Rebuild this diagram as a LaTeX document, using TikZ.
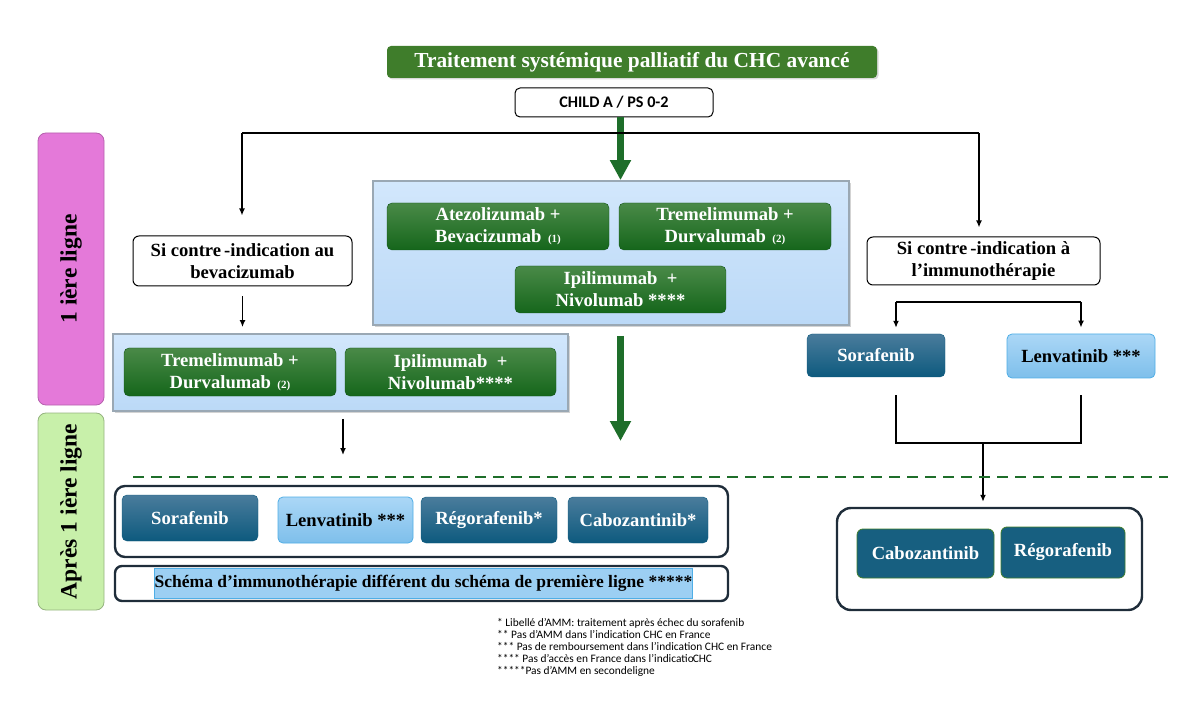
\documentclass[tikz,border=0pt]{standalone}
\usepackage{fontspec}
\setmainfont{Liberation Serif}
\newfontfamily\calfont{Carlito}
\usetikzlibrary{arrows.meta,shadows}

\definecolor{titlegreen}{HTML}{3F7D2B}
\definecolor{btngreentop}{HTML}{4A8A48}
\definecolor{btngreenbot}{HTML}{15661B}
\definecolor{tealtop}{HTML}{4A7C9C}
\definecolor{tealbot}{HTML}{0D5A7E}
\definecolor{tealflat}{HTML}{175F80}
\definecolor{lighttop}{HTML}{ABD7F6}
\definecolor{lightbot}{HTML}{7EBFEB}
\definecolor{lightedge}{HTML}{4FAEE6}
\definecolor{paneltop}{HTML}{D2E7FC}
\definecolor{panelbot}{HTML}{BBD9F7}
\definecolor{paneledge}{HTML}{9AA8B4}
\definecolor{pinklabel}{HTML}{E479D9}
\definecolor{greenlabel}{HTML}{C8F0AA}
\definecolor{arrowgreen}{HTML}{1E6E2A}
\definecolor{framedark}{HTML}{1F2D3A}
\definecolor{highlight}{HTML}{9CCFF3}

\tikzset{
  btnfont/.style={font=\fontsize{18.6}{22}\selectfont\bfseries},
  greenbtn/.style={rounded corners=5pt, top color=btngreentop, bottom color=btngreenbot,
    draw=btngreenbot!80!black, line width=0.4pt, text=white, btnfont, align=center, inner sep=0pt},
  tealbtn/.style={rounded corners=5pt, top color=tealtop, bottom color=tealbot,
    draw=tealbot, line width=0.4pt, text=white, btnfont, align=center, inner sep=0pt},
  flatteal/.style={rounded corners=6pt, fill=tealflat, draw=titlegreen, line width=0.8pt,
    text=white, btnfont, align=center, inner sep=0pt},
  lightbtn/.style={rounded corners=5pt, top color=lighttop, bottom color=lightbot,
    draw=lightedge, line width=0.8pt, text=black, btnfont, align=center, inner sep=0pt},
  whitebox/.style={rounded corners=6pt, fill=white, draw=black, line width=1pt,
    text=black, btnfont, align=center, inner sep=0pt},
  panel/.style={top color=paneltop, bottom color=panelbot, draw=paneledge, line width=1.8pt,
    drop shadow={shadow xshift=2pt, shadow yshift=-2pt, opacity=0.35}, inner sep=0pt},
  frame/.style={rounded corners=10pt, draw=framedark, line width=2.4pt, fill=white, inner sep=0pt},
  sidelabel/.style={rounded corners=8pt, rotate=90, line width=0.8pt, inner sep=0pt,
    font=\fontsize{23.5}{26}\selectfont\bfseries, text=black},
  blk/.style={draw=black, line width=1.4pt, -{Latex[length=7pt,width=6pt]}},
  plainline/.style={draw=black, line width=1.8pt},
  garrow/.style={draw=arrowgreen, line width=7pt, -{Triangle[length=20pt,width=20pt]}},
  dashgreen/.style={draw=arrowgreen, line width=2pt, dash pattern=on 11pt off 7pt},
}

\newcommand{\refmark}[1]{\fontsize{11}{11}\selectfont\,#1}

\begin{document}
\begin{tikzpicture}[x=1pt,y=-1pt]
\useasboundingbox (0,0) rectangle (1200,719);

% line labels on the left
\node[sidelabel, fill=pinklabel, draw=pinklabel!80!black,
      minimum width=272pt, minimum height=66pt] (firstline) at (71,269) {1 ière ligne};
\node[sidelabel, fill=greenlabel, draw=greenlabel!75!black,
      minimum width=197pt, minimum height=66pt] (afterline) at (71,511.5) {Après 1 ière ligne};

% title and entry condition
\node[rounded corners=4pt, fill=titlegreen, text=white, inner sep=0pt,
      minimum width=490pt, minimum height=32pt,
      drop shadow={shadow xshift=1.5pt, shadow yshift=-1.5pt, opacity=0.3},
      font=\fontsize{21.4}{24}\selectfont\bfseries] (title) at (632,62)
      {Traitement systémique palliatif du CHC avancé};
\node[rounded corners=5pt, draw=black, line width=1pt, fill=white, inner sep=0pt,
      minimum width=198pt, minimum height=29pt,
      font=\calfont\fontsize{16.2}{18}\selectfont\bfseries] (child) at (614,102.5)
      {CHILD A / PS 0-2};

% first-line panel in the middle
\node[panel, minimum width=476pt, minimum height=144pt] (panel1) at (611,253) {};
\node[greenbtn, minimum width=222pt, minimum height=47pt] (atezo) at (498,226.5)
      {Atezolizumab +\\Bevacizumab \refmark{(1)}};
\node[greenbtn, minimum width=212pt, minimum height=47pt] (treme1) at (725,226.5)
      {Tremelimumab +\\Durvalumab \refmark{(2)}};
\node[greenbtn, minimum width=211pt, minimum height=47pt] (ipi1) at (620.5,289.5)
      {Ipilimumab \ +\\Nivolumab ****};

% left branch: contra-indication to bevacizumab
\node[whitebox, minimum width=219pt, minimum height=50pt] (sib) at (242.5,261)
      {Si contre\,-indication au\\bevacizumab};
\node[panel, minimum width=455pt, minimum height=77pt] (panel2) at (340.5,372.5) {};
\node[greenbtn, minimum width=212pt, minimum height=48pt] (treme2) at (230,372)
      {Tremelimumab +\\Durvalumab \refmark{(2)}};
\node[greenbtn, minimum width=211pt, minimum height=48pt] (ipi2) at (450.5,372)
      {Ipilimumab \ +\\Nivolumab****};

% right branch: contra-indication to immunotherapy
\node[whitebox, minimum width=233pt, minimum height=48pt] (sci) at (983.5,261)
      {Si contre\,-indication à\\l’immunothérapie};
\node[tealbtn, minimum width=138pt, minimum height=43pt] (sor1) at (876,355.5) {Sorafenib};
\node[lightbtn, minimum width=148pt, minimum height=44pt] (len1) at (1081,356) {Lenvatinib ***};

% after first line, left
\node[frame, minimum width=613pt, minimum height=71pt] (afterbox) at (421.5,521.5) {};
\node[tealbtn, minimum width=136pt, minimum height=46pt] (sor2) at (190,518) {Sorafenib};
\node[lightbtn, minimum width=135pt, minimum height=46pt] (len2) at (345.5,520) {Lenvatinib ***};
\node[tealbtn, minimum width=136pt, minimum height=46pt] (reg2) at (489,520) {Régorafenib*};
\node[tealbtn, minimum width=140pt, minimum height=46pt] (cab2) at (638,520) {Cabozantinib*};

\node[frame, rounded corners=7pt, minimum width=613pt, minimum height=35pt] (immbox) at (421.5,583.5) {};
\node[fill=highlight, draw=lightedge, line width=0.5pt, inner sep=0pt,
      minimum width=537pt, minimum height=30pt,
      font=\fontsize{17.5}{20}\selectfont\bfseries] (immtext) at (423.5,583)
      {Schéma d’immunothérapie différent du schéma de première ligne *****};

% after first line, right
\node[frame, rounded corners=14pt, minimum width=305pt, minimum height=102pt] (rbox) at (989.5,559) {};
\node[flatteal, minimum width=137pt, minimum height=49pt] (cab3) at (925.5,553.5) {Cabozantinib};
\node[flatteal, minimum width=124pt, minimum height=51pt] (reg3) at (1063,552.5) {Régorafenib};

% footnotes
\node[anchor=north west, align=left, inner sep=0pt,
      font=\calfont\fontsize{11.4}{12}\selectfont] (notes) at (497,618.5)
      {* Libellé d’AMM: traitement après échec du sorafenib\\
       ** Pas d’AMM dans l’indication CHC en France\\
       *** Pas de remboursement dans l’indication CHC en France\\
       **** Pas d’accès en France dans l’indicatio\kern-1ptCHC\\
       *****Pas d’AMM en secondeligne};

% connectors
\coordinate (jl) at (242,133);
\coordinate (jr) at (979,133);
\coordinate (gend) at (620.5,441);
\coordinate (lend) at (343,455);
\coordinate (ul) at (896,302);
\coordinate (ur) at (1081,302);
\coordinate (bl) at (896,396);
\coordinate (bml) at (896,443);
\coordinate (bmr) at (1081,443);
\coordinate (br) at (1081,396);
\coordinate (bmid) at (983,443);

\draw[garrow] (ipi1.north |- child.south) -- (ipi1.north |- panel1.north);
\draw[plainline] (jl) -- (jr);
\draw[blk, line width=1.6pt, shorten >=20pt] (jl) -- (jl |- sib.north);
\draw[blk, line width=1.6pt, shorten >=9pt] (jr) -- (jr |- sci.north);

\draw[blk, shorten <=10pt, shorten >=6pt] (sib.south) -- (sib.south |- panel2.north);
\draw[blk, shorten <=7pt] (lend |- panel2.south) -- (lend);
\draw[garrow, shorten <=10pt] (gend |- panel1.south) -- (gend);

\draw[plainline] (ul) -- (ur);
\draw[blk, line width=1.8pt, shorten >=6pt] (ul) -- (ul |- sor1.north);
\draw[blk, line width=1.8pt, shorten >=6pt] (ur) -- (ur |- len1.north);

\draw[plainline, line cap=rect] (bl) -- (bml) -- (bmr) -- (br);
\draw[blk, line width=1.6pt, shorten >=5pt] (bmid) -- (bmid |- rbox.north);

\draw[dashgreen] (133,477) -- (1168,477);
\end{tikzpicture}
\end{document}
